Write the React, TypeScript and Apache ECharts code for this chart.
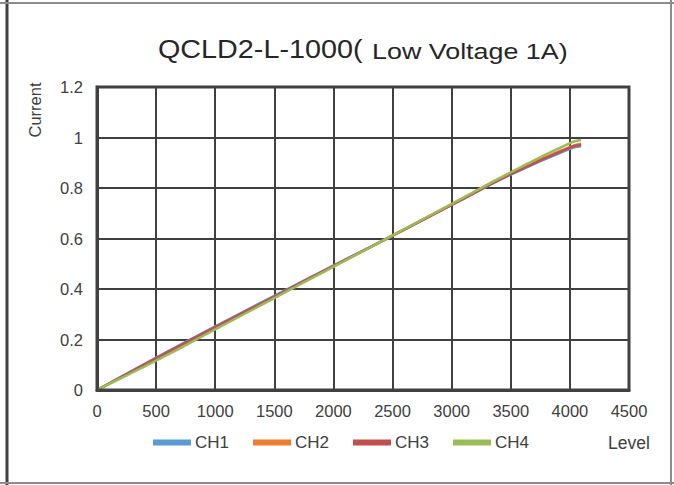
import React, { useEffect, useRef } from "react";
import * as echarts from "echarts";

const levels = [0, 500, 1000, 1500, 2000, 2500, 3000, 3500, 4000, 4095];
const ch1 = [0, 0.128, 0.252, 0.373, 0.493, 0.612, 0.733, 0.853, 0.955, 0.965];
const ch2 = [0, 0.122, 0.246, 0.368, 0.49, 0.61, 0.735, 0.858, 0.963, 0.975];
const ch3 = [0, 0.125, 0.249, 0.37, 0.492, 0.611, 0.733, 0.855, 0.96, 0.97];
const ch4 = [0, 0.116, 0.24, 0.364, 0.488, 0.612, 0.737, 0.862, 0.978, 0.99];
const seriesNames = ["CH1", "CH2", "CH3", "CH4"];
const seriesColors = ["#5b9bd5", "#ed7d31", "#c0504d", "#9bbb59"];
const titleMain = "QCLD2-L-1000(";
const titleSub = "Low Voltage 1A)";

export default function App() {
  const ref = useRef<HTMLDivElement>(null);
  useEffect(() => {
    document.body.style.margin = "0";
    const chart = echarts.init(ref.current!, null, { renderer: "svg" });
    const all = [ch1, ch2, ch3, ch4];
    const font = "Liberation Sans, Arial, sans-serif";
    chart.setOption({
      animation: false,
      backgroundColor: "#ffffff",
      textStyle: { fontFamily: font },
      grid: { left: 97, right: 45, top: 87, bottom: 95 },
      legend: {
        data: seriesNames,
        left: 153,
        top: 434,
        padding: 0,
        itemWidth: 38,
        itemHeight: 6,
        itemGap: 24,
        icon: "rect",
        textStyle: { fontSize: 17, color: "#404040", fontFamily: font, padding: [0, 0, 0, -1] },
      },
      xAxis: {
        type: "value",
        min: 0,
        max: 4500,
        interval: 500,
        axisLine: { show: true, lineStyle: { color: "#404040", width: 3 } },
        axisTick: { show: false },
        splitLine: { show: true, lineStyle: { color: "#404040", width: 2 } },
        axisLabel: { fontSize: 16.5, color: "#404040", margin: 12, formatter: (v: number) => String(v) },
      },
      yAxis: {
        type: "value",
        min: 0,
        max: 1.2,
        interval: 0.2,
        axisLine: { show: true, lineStyle: { color: "#404040", width: 3 } },
        axisTick: { show: false },
        splitLine: { show: true, lineStyle: { color: "#404040", width: 2 } },
        axisLabel: {
          fontSize: 16.5,
          color: "#404040",
          margin: 14,
          formatter: (v: number) => String(Math.round(v * 10) / 10),
        },
      },
      graphic: [
        { type: "rect", shape: { x: 97, y: 87, width: 532, height: 303 }, style: { fill: "none", stroke: "#404040", lineWidth: 3 }, z: 10, silent: true },
        { type: "line", shape: { x1: 7, y1: 0, x2: 7, y2: 485 }, style: { stroke: "#404040", lineWidth: 3 } },
        { type: "line", shape: { x1: 0, y1: 3, x2: 674, y2: 3 }, style: { stroke: "#8c8c8c", lineWidth: 2 } },
        { type: "line", shape: { x1: 671, y1: 0, x2: 671, y2: 485 }, style: { stroke: "#8c8c8c", lineWidth: 2 } },
        { type: "line", shape: { x1: 0, y1: 483, x2: 674, y2: 483 }, style: { stroke: "#8c8c8c", lineWidth: 2 } },
        {
          type: "text",
          x: 158,
          y: 50,
          scaleX: 1.15,
          style: { text: titleMain, fontSize: 25, fill: "#262626", align: "left", verticalAlign: "middle", fontFamily: font },
        },
        {
          type: "text",
          x: 372,
          y: 51.5,
          scaleX: 1.25,
          style: { text: titleSub, fontSize: 21.5, fill: "#262626", align: "left", verticalAlign: "middle", fontFamily: font },
        },
        {
          type: "text",
          x: 35,
          y: 110,
          rotation: Math.PI / 2,
          style: { text: "Current", fontSize: 16.5, fill: "#404040", align: "center", verticalAlign: "middle", fontFamily: font },
        },
        {
          type: "text",
          x: 629,
          y: 443,
          style: { text: "Level", fontSize: 17.5, fill: "#404040", align: "center", verticalAlign: "middle", fontFamily: font },
        },
      ],
      series: seriesNames.map((name, i) => ({
        name,
        type: "line",
        smooth: true,
        showSymbol: false,
        symbol: "none",
        color: seriesColors[i],
        lineStyle: { width: 2.5, color: seriesColors[i] },
        data: levels.map((l, j) => [l, all[i][j]]),
      })),
    });
    return () => chart.dispose();
  }, []);
  return <div ref={ref} style={{ width: 674, height: 485 }} />;
}
